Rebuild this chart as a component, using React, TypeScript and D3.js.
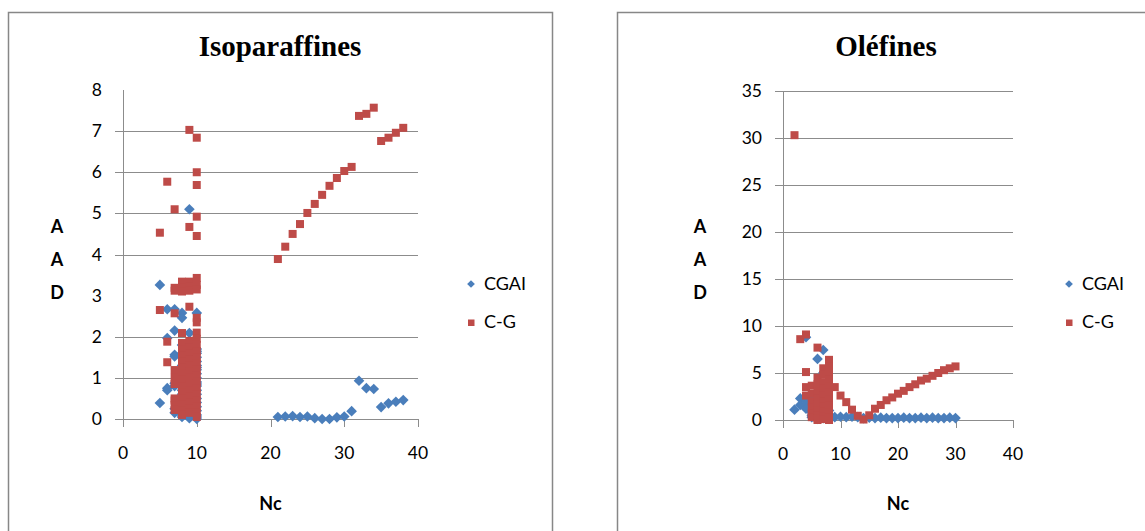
import React from "react";
import * as d3 from "d3";

// ---------- DATA ----------
const xTicks = [0, 10, 20, 30, 40];
const isoYTicks = [0, 1, 2, 3, 4, 5, 6, 7, 8];
const isoGridValues = [1, 2, 4, 5, 6, 7];
const oleYTicks = [0, 5, 10, 15, 20, 25, 30, 35];
const oleGridValues = [5, 10, 15, 20, 25, 30, 35];
const seriesNames = ["CGAI", "C-G"];

const isoCGAI: [number, number][] = [
  [5, 3.26], [5, 0.39],
  [6, 2.67], [6, 1.97], [6, 0.75], [6, 0.7],
  [7, 2.67], [7, 2.15], [7, 1.56], [7, 1.52], [7, 0.87], [7, 0.8], [7, 0.25], [7, 0.15],
  [8, 2.58], [8, 2.46], [8, 1.8], [8, 1.6], [8, 1.3], [8, 1.15], [8, 1.0], [8, 0.85], [8, 0.7], [8, 0.6], [8, 0.45], [8, 0.3], [8, 0.2], [8, 0.1], [8, 0.05],
  [9, 5.1], [9, 2.09], [9, 1.9], [9, 1.7], [9, 1.5], [9, 1.35], [9, 1.2], [9, 1.1], [9, 1.05], [9, 0.95], [9, 0.85], [9, 0.75], [9, 0.65], [9, 0.55], [9, 0.5], [9, 0.45], [9, 0.35], [9, 0.25], [9, 0.15], [9, 0.08], [9, 0.02],
  [10, 2.58], [10, 1.7], [10, 1.65], [10, 1.6], [10, 1.5], [10, 1.4], [10, 1.3], [10, 1.25], [10, 1.2], [10, 1.1], [10, 1.0], [10, 0.9], [10, 0.85], [10, 0.8], [10, 0.7], [10, 0.6], [10, 0.5], [10, 0.4], [10, 0.3], [10, 0.2], [10, 0.1], [10, 0.05], [10, 0.0],
  [21, 0.05], [22, 0.06], [23, 0.07], [24, 0.05], [25, 0.06], [26, 0.02], [27, 0.0], [28, 0.0], [29, 0.04], [30, 0.06],
  [31, 0.19], [32, 0.93], [33, 0.75], [34, 0.73], [35, 0.29], [36, 0.38], [37, 0.42], [38, 0.46],
];

const isoCG: [number, number][] = [
  [5, 4.53], [5, 2.65],
  [6, 5.77], [6, 1.88], [6, 1.38],
  [7, 5.1], [7, 3.19], [7, 3.12], [7, 2.57], [7, 1.19], [7, 1.0], [7, 0.85], [7, 0.5], [7, 0.45], [7, 0.34], [7, 0.22],
  [8, 3.34], [8, 3.19], [8, 3.1], [8, 2.09], [8, 1.85], [8, 1.7], [8, 1.55], [8, 1.4], [8, 1.25], [8, 1.1], [8, 0.95], [8, 0.8], [8, 0.65], [8, 0.5], [8, 0.35], [8, 0.2], [8, 0.1],
  [9, 7.03], [9, 4.67], [9, 3.34], [9, 3.22], [9, 3.12], [9, 2.73], [9, 1.9], [9, 1.75], [9, 1.6], [9, 1.45], [9, 1.3], [9, 1.15], [9, 1.0], [9, 0.85], [9, 0.7], [9, 0.55], [9, 0.4], [9, 0.25], [9, 0.15],
  [10, 6.84], [10, 6.0], [10, 5.69], [10, 4.92], [10, 4.45], [10, 3.43], [10, 3.26], [10, 3.15], [10, 2.46], [10, 2.35], [10, 2.1], [10, 1.95], [10, 1.8], [10, 1.65], [10, 1.5], [10, 1.35], [10, 1.2], [10, 1.05], [10, 0.9], [10, 0.75], [10, 0.6], [10, 0.45], [10, 0.3], [10, 0.15], [10, 0.05],
  [21, 3.89], [22, 4.19], [23, 4.5], [24, 4.74], [25, 5.01], [26, 5.23], [27, 5.45], [28, 5.67], [29, 5.86], [30, 6.03],
  [31, 6.13], [32, 7.37], [33, 7.42], [34, 7.57], [35, 6.76], [36, 6.84], [37, 6.96], [38, 7.08],
];

const oleCGAI: [number, number][] = [
  [2, 1.1], [3, 2.3], [3, 1.6], [4, 8.8], [4, 2.0], [4, 1.6], [4, 1.2],
  [5, 2.5], [5, 1.9], [5, 1.4], [5, 0.8], [5, 0.5], [5, 0.3],
  [6, 6.5], [6, 3.0], [6, 2.2], [6, 1.6], [6, 1.3], [6, 1.0], [6, 0.6], [6, 0.3], [6, 0.1],
  [7, 7.45], [7, 5.0], [7, 3.5], [7, 2.5], [7, 1.8], [7, 1.2], [7, 0.7], [7, 0.4], [7, 0.2],
  [8, 1.0], [8, 0.5], [8, 0.3], [8, 0.1],
  [9, 0.3], [10, 0.35], [11, 0.3], [12, 0.35], [13, 0.3], [14, 0.2], [15, 0.25], [16, 0.2], [17, 0.25], [18, 0.2], [19, 0.2],
  [20, 0.2], [21, 0.25], [22, 0.2], [23, 0.2], [24, 0.25], [25, 0.2], [26, 0.25], [27, 0.2], [28, 0.2], [29, 0.25], [30, 0.2],
];

const oleCG: [number, number][] = [
  [2, 30.3], [3, 8.6], [4, 9.1], [4, 5.1], [4, 3.5], [4, 2.6],
  [5, 3.65], [5, 2.8], [5, 2.0], [5, 1.3], [5, 0.7], [5, 0.3],
  [6, 7.7], [6, 4.5], [6, 3.8], [6, 3.0], [6, 2.3], [6, 1.6], [6, 1.0], [6, 0.5], [6, 0.2], [6, 0.0],
  [7, 5.5], [7, 4.8], [7, 4.0], [7, 3.3], [7, 2.6], [7, 2.0], [7, 1.4], [7, 0.9], [7, 0.4], [7, 0.1],
  [8, 6.4], [8, 5.7], [8, 5.0], [8, 4.3], [8, 3.6], [8, 2.9], [8, 2.2], [8, 1.5], [8, 0.8], [8, 0.3], [8, 0.0],
  [9, 3.5], [10, 2.6], [11, 1.9], [12, 1.1], [13, 0.45], [14, 0.05], [15, 0.5], [16, 1.2], [17, 1.6], [18, 2.1], [19, 2.4],
  [20, 2.8], [21, 3.1], [22, 3.5], [23, 3.8], [24, 4.2], [25, 4.4], [26, 4.7], [27, 5.0], [28, 5.3], [29, 5.5], [30, 5.7],
];

// ---------- STYLE ----------
const BLUE = "#4A7EBB";
const RED = "#BE4B48";
const GRID = "#8C8C8C";
const SANS = "Lato, 'Open Sans', sans-serif";
const SERIF = "'Liberation Serif', 'Times New Roman', serif";

const diamondPath = d3.symbol(d3.symbolDiamond2, 72)();
const diamondLegend = d3.symbol(d3.symbolDiamond2, 38)();

type PanelProps = {
  title: string;
  boxX: number;
  xRange: [number, number];
  yDomainMax: number;
  yRange: [number, number];
  yTicks: number[];
  gridValues: number[];
  tickedValues: number[];
  cgai: [number, number][];
  cg: [number, number][];
  titleX: number;
  aadX: number;
  legendX: number;
};

function Panel(p: PanelProps) {
  const x = d3.scaleLinear().domain([0, 40]).range(p.xRange);
  const y = d3.scaleLinear().domain([0, p.yDomainMax]).range(p.yRange);
  const x0 = x(0);
  const x1 = x(40);
  const y0 = y(0);
  const yTop = y(p.yDomainMax);
  const sq = 8;
  return (
    <g>
      <rect x={p.boxX} y={12.5} width={p.boxX < 300 ? 544 : 600} height={560} fill="#fff" stroke="#878787" strokeWidth={1.5} />
      <text x={p.titleX} y={56} textAnchor="middle" fontFamily={SERIF} fontWeight="bold" fontSize={29} fill="#000">{p.title}</text>
      {p.gridValues.map((v) => (
        <line key={"g" + v} x1={x0} x2={x1} y1={Math.round(y(v)) + 0.5} y2={Math.round(y(v)) + 0.5} stroke={GRID} strokeWidth={1} />
      ))}
      <line x1={x0 + 0.5} x2={x0 + 0.5} y1={yTop} y2={y0} stroke={GRID} strokeWidth={1} />
      {p.tickedValues.map((v) => (
        <line key={"yt" + v} x1={x0 - 8} x2={x0} y1={Math.round(y(v)) + 0.5} y2={Math.round(y(v)) + 0.5} stroke={GRID} strokeWidth={1} />
      ))}
      {p.yTicks.map((v) => (
        <text key={"yl" + v} x={x0 - 21} y={y(v) + 6} textAnchor="end" fontFamily={SANS} fontSize={17.5} fill="#000">{v}</text>
      ))}
      <line x1={x0} x2={x1} y1={Math.round(y0) + 0.5} y2={Math.round(y0) + 0.5} stroke={GRID} strokeWidth={1} />
      {xTicks.map((v) => (
        <line key={"xt" + v} x1={Math.round(x(v)) + 0.5} x2={Math.round(x(v)) + 0.5} y1={y0} y2={y0 + 8} stroke={GRID} strokeWidth={1} />
      ))}
      {xTicks.map((v) => (
        <text key={"xl" + v} x={x(v)} y={y0 + 40} textAnchor="middle" fontFamily={SANS} fontSize={17.5} fill="#000">{v}</text>
      ))}
      {["A", "A", "D"].map((c, i) => (
        <text key={"aad" + i} x={p.aadX} y={233 + i * 33} textAnchor="middle" fontFamily={SANS} fontWeight="bold" fontSize={18} fill="#000">{c}</text>
      ))}
      <text x={(x0 + x1) / 2} y={510} textAnchor="middle" fontFamily={SANS} fontWeight="bold" fontSize={18} fill="#000">Nc</text>
      {p.cgai.map((d, i) => (
        <path key={"b" + i} d={diamondPath} transform={`translate(${x(d[0])},${y(d[1])})`} fill={BLUE} />
      ))}
      {p.cg.map((d, i) => (
        <rect key={"r" + i} x={x(d[0]) - sq / 2} y={y(d[1]) - sq / 2} width={sq} height={sq} fill={RED} />
      ))}
      <path d={diamondLegend} transform={`translate(${p.legendX},284)`} fill={BLUE} />
      <text x={p.legendX + 13} y={290} fontFamily={SANS} fontSize={18} fill="#000">{seriesNames[0]}</text>
      <rect x={p.legendX - 3} y={319.5} width={6.5} height={6.5} fill={RED} />
      <text x={p.legendX + 13} y={328} fontFamily={SANS} fontSize={18} fill="#000">{seriesNames[1]}</text>
    </g>
  );
}

export default function App() {
  return (
    <svg width={1145} height={531} style={{ position: "absolute", left: 0, top: 0, background: "#fff" }}>
      <rect x={0} y={0} width={1145} height={531} fill="#fff" />
      <Panel
        title="Isoparaffines"
        boxX={8.5}
        xRange={[123, 418]}
        yDomainMax={8}
        yRange={[419, 90]}
        yTicks={isoYTicks}
        gridValues={isoGridValues}
        tickedValues={[0, 1, 2, 4, 5, 6, 7]}
        cgai={isoCGAI}
        cg={isoCG}
        titleX={280}
        aadX={57}
        legendX={471}
      />
      <Panel
        title="Oléfines"
        boxX={617.5}
        xRange={[783, 1013]}
        yDomainMax={35}
        yRange={[420, 91]}
        yTicks={oleYTicks}
        gridValues={oleGridValues}
        tickedValues={oleYTicks}
        cgai={oleCGAI}
        cg={oleCG}
        titleX={886}
        aadX={700}
        legendX={1069}
      />
    </svg>
  );
}
